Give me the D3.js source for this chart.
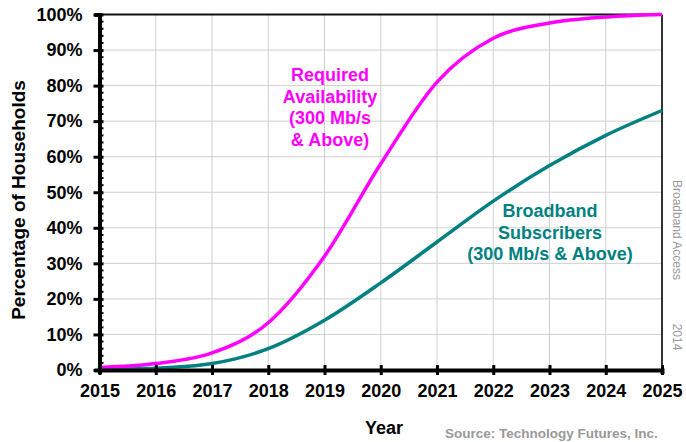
<!DOCTYPE html>
<html lang="en">
<head>
	<meta charset="utf-8">
	<title>Broadband Access 300 Mb/s</title>
	<style type="text/css">
		body { margin: 0; background: #fff; }
		svg { display: block; font-family: Arial, "Liberation Sans", sans-serif; }
	</style>
</head>
<body>
	<div id="content"><svg></svg></div>

	<script src="https://cdnjs.cloudflare.com/ajax/libs/d3/7.8.5/d3.min.js"></script>
	<script type="text/javascript">
		// data
		var years = [2015, 2016, 2017, 2018, 2019, 2020, 2021, 2022, 2023, 2024, 2025];
		var required = [0.7, 1.8, 4.8, 13.3, 32, 58, 81, 93.3, 97.6, 99.3, 100];
		var subscribers = [0.2, 0.5, 1.8, 6, 14, 24.5, 36, 47.5, 57.5, 66, 73];
		var yTicks = [0, 10, 20, 30, 40, 50, 60, 70, 80, 90, 100];
		var requiredLabel = ["Required", "Availability", "(300 Mb/s", "& Above)"];
		var subscribersLabel = ["Broadband", "Subscribers", "(300 Mb/s & Above)"];

		var w = 686, h = 442;
		var svg = d3.select("svg").attr("width", w).attr("height", h);

		var x = d3.scaleLinear().domain([2015, 2025]).range([99.5, 662]);
		var y = d3.scaleLinear().domain([0, 100]).range([370, 14.5]);

		// gridlines
		svg.append("g")
			.selectAll("line")
			.data(years.slice(1, -1))
			.join("line")
			.attr("x1", d => x(d)).attr("x2", d => x(d))
			.attr("y1", y(0)).attr("y2", y(100))
			.attr("stroke", "#cfcfcf").attr("stroke-width", 1);

		svg.append("g")
			.selectAll("line")
			.data(yTicks.slice(1, -1))
			.join("line")
			.attr("x1", x(2015)).attr("x2", x(2025))
			.attr("y1", d => y(d)).attr("y2", d => y(d))
			.attr("stroke", "#cfcfcf").attr("stroke-width", 1);

		// top and right frame
		svg.append("line")
			.attr("x1", x(2015)).attr("x2", x(2025))
			.attr("y1", y(100)).attr("y2", y(100))
			.attr("stroke", "#111").attr("stroke-width", 2);
		svg.append("line")
			.attr("x1", x(2025)).attr("x2", x(2025))
			.attr("y1", y(100)).attr("y2", y(0))
			.attr("stroke", "#333").attr("stroke-width", 2);

		// curves
		var line = d3.line()
			.x((d, i) => x(years[i]))
			.y(d => y(d))
			.curve(d3.curveMonotoneX);

		svg.append("path")
			.attr("d", line(subscribers))
			.attr("fill", "none")
			.attr("stroke", "#008080")
			.attr("stroke-width", 3.5);

		svg.append("path")
			.attr("d", line(required))
			.attr("fill", "none")
			.attr("stroke", "#ff00ff")
			.attr("stroke-width", 3.5);

		// left axis
		var yAxis = d3.axisLeft(y)
			.tickValues(yTicks)
			.tickSize(5)
			.tickPadding(12)
			.tickFormat(d => d + "%");

		var gy = svg.append("g")
			.attr("transform", "translate(" + x(2015) + ",0)")
			.call(yAxis);
		gy.select(".domain").attr("stroke", "#000").attr("stroke-width", 4);
		gy.selectAll(".tick line").attr("stroke", "#000").attr("stroke-width", 3)
			.attr("x2", -6).attr("x1", 4);
		gy.selectAll(".tick text")
			.attr("font-size", 18).attr("font-weight", "bold").attr("fill", "#000")
			.attr("font-family", "Arial, 'Liberation Sans', sans-serif");

		// minor ticks every 2%
		svg.append("g")
			.selectAll("line")
			.data(d3.range(2, 100, 2).filter(d => d % 10 != 0))
			.join("line")
			.attr("x1", x(2015)).attr("x2", x(2015) + 4)
			.attr("y1", d => y(d)).attr("y2", d => y(d))
			.attr("stroke", "#000").attr("stroke-width", 2);

		// bottom axis
		var xAxis = d3.axisBottom(x)
			.tickValues(years)
			.tickSize(4)
			.tickPadding(10)
			.tickFormat(d3.format("d"));

		var gx = svg.append("g")
			.attr("transform", "translate(0," + y(0) + ")")
			.call(xAxis);
		gx.select(".domain").attr("stroke", "#000").attr("stroke-width", 4);
		gx.selectAll(".tick line").attr("stroke", "#000").attr("stroke-width", 3)
			.attr("y1", -5).attr("y2", 5);
		gx.selectAll(".tick text")
			.attr("font-size", 18).attr("font-weight", "bold").attr("fill", "#000")
			.attr("font-family", "Arial, 'Liberation Sans', sans-serif");

		// axis titles
		svg.append("text")
			.attr("transform", "translate(25,200) rotate(-90)")
			.attr("text-anchor", "middle")
			.attr("font-size", 19).attr("font-weight", "bold")
			.text("Percentage of Households");

		svg.append("text")
			.attr("x", 384).attr("y", 434)
			.attr("text-anchor", "middle")
			.attr("font-size", 18).attr("font-weight", "bold")
			.text("Year");

		// series labels
		svg.append("g")
			.selectAll("text")
			.data(requiredLabel)
			.join("text")
			.attr("x", 330)
			.attr("y", (d, i) => 81 + i * 21.5)
			.attr("text-anchor", "middle")
			.attr("font-size", 18).attr("font-weight", "bold")
			.attr("fill", "#ff00ff")
			.text(d => d);

		svg.append("g")
			.selectAll("text")
			.data(subscribersLabel)
			.join("text")
			.attr("x", 550)
			.attr("y", (d, i) => 217 + i * 21.5)
			.attr("text-anchor", "middle")
			.attr("font-size", 18).attr("font-weight", "bold")
			.attr("fill", "#008080")
			.text(d => d);

		// side notes
		svg.append("text")
			.attr("transform", "translate(673,230) rotate(90)")
			.attr("text-anchor", "middle")
			.attr("font-size", 12).attr("fill", "#999")
			.text("Broadband Access");
		svg.append("text")
			.attr("transform", "translate(673,337) rotate(90)")
			.attr("text-anchor", "middle")
			.attr("font-size", 12).attr("fill", "#999")
			.text("2014");

		svg.append("text")
			.attr("x", 445).attr("y", 438)
			.attr("font-size", 13.5).attr("font-weight", "bold").attr("fill", "#999")
			.text("Source: Technology Futures, Inc.");
	</script>
</body>
</html>
